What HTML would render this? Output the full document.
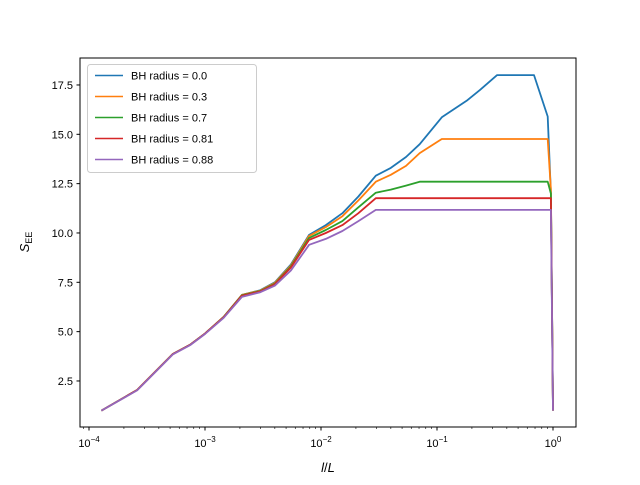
<!DOCTYPE html>
<html><head><meta charset="utf-8"><style>
body{margin:0;background:#fff}
svg{font-family:"Liberation Sans","DejaVu Sans",sans-serif}
</style></head><body>
<svg id="chart" width="640" height="480" viewBox="0 0 640 480">
<rect width="640" height="480" fill="#fff"/>
<g id="plot"></g>
<rect x="80" y="58" width="496" height="369" fill="none" stroke="#000" stroke-width="1"/>
<g id="axes"></g>
<text x="328" y="472" font-size="13" text-anchor="middle"><tspan font-style="italic">l</tspan>/<tspan font-style="italic">L</tspan></text>
<text transform="translate(29,242) rotate(-90)" font-size="13" text-anchor="middle"><tspan font-style="italic">S</tspan><tspan font-size="9" dy="3">EE</tspan></text>
<g id="legend"></g>
</svg>
<script>
const xVals=[1.28e-4,2.6e-4,5.3e-4,7.5e-4,1.0e-3,1.45e-3,2.08e-3,3.0e-3,4.0e-3,5.5e-3,7.9e-3,1.1e-2,1.53e-2,2.1e-2,2.97e-2,4.0e-2,5.4e-2,7.1e-2,0.11,0.18,0.235,0.33,0.686,0.9,0.96,1.0];
const seriesNames=["BH radius = 0.0","BH radius = 0.3","BH radius = 0.7","BH radius = 0.81","BH radius = 0.88"];
const s0=[1,2.04,3.87,4.35,4.9,5.75,6.86,7.1,7.5,8.4,9.9,10.4,11.0,11.85,12.9,13.3,13.85,14.5,15.86,16.7,17.25,18.0,18.0,15.9,12.0,1.0];
const s1=[1,2.04,3.87,4.35,4.9,5.75,6.86,7.08,7.47,8.35,9.85,10.3,10.85,11.65,12.6,12.95,13.4,14.05,14.76,14.76,14.76,14.76,14.76,14.76,12.2,1.0];
const s2=[1,2.04,3.87,4.35,4.9,5.74,6.84,7.06,7.43,8.3,9.75,10.15,10.6,11.3,12.04,12.2,12.4,12.6,12.6,12.6,12.6,12.6,12.6,12.6,12.0,1.0];
const s3=[1,2.04,3.87,4.35,4.9,5.73,6.82,7.04,7.4,8.25,9.65,10.0,10.4,11.0,11.76,11.76,11.76,11.76,11.76,11.76,11.76,11.76,11.76,11.76,11.76,1.0];
const s4=[1,2.02,3.85,4.33,4.88,5.7,6.76,7.0,7.33,8.1,9.4,9.7,10.1,10.6,11.17,11.17,11.17,11.17,11.17,11.17,11.17,11.17,11.17,11.17,11.17,1.0];
const yTicks=[2.5,5.0,7.5,10.0,12.5,15.0,17.5];
const xTickExp=[-4,-3,-2,-1,0];
const colors=["#1f77b4","#ff7f0e","#2ca02c","#d62728","#9467bd"];
const allSeries=[s0,s1,s2,s3,s4];
const NS="http://www.w3.org/2000/svg";
function X(v){return 553+116*Math.log10(v);}
function Y(v){return 430.3-19.733*v;}
function mk(t,a,p){const e=document.createElementNS(NS,t);for(const k in a)e.setAttribute(k,a[k]);p.appendChild(e);return e;}
const plot=document.getElementById('plot'),axes=document.getElementById('axes'),leg=document.getElementById('legend');
allSeries.forEach((s,i)=>{
 const d=s.map((v,j)=>(j?'L':'M')+X(xVals[j]).toFixed(1)+','+Y(v).toFixed(1)).join('');
 const p=mk('path',{d:d,fill:'none',stroke:colors[i],'stroke-width':1.8,'stroke-linejoin':'round'},plot);
 
 
});
yTicks.forEach(v=>{
 const y=Y(v);
 mk('line',{x1:76.5,x2:80,y1:y,y2:y,stroke:'#000'},axes);
 const t=mk('text',{x:73,y:y+4,'font-size':11,'text-anchor':'end'},axes);
 t.textContent=v.toFixed(1);
 
 
});
xTickExp.forEach(e=>{
 const x=X(Math.pow(10,e));
 mk('line',{x1:x,x2:x,y1:427,y2:430.5,stroke:'#000'},axes);
 const t=mk('text',{x:x,y:447,'font-size':11,'text-anchor':'middle'},axes);
 t.innerHTML='10<tspan font-size="8" dy="-5">'+(e<0?'\u2212'+(-e):e)+'</tspan>';
 
 
 for(let m=2;m<10;m++){const xm=X(m*Math.pow(10,e));if(xm<576)mk('line',{x1:xm,x2:xm,y1:427,y2:429,stroke:'#000','stroke-width':0.6},axes);}
 if(e===-4){for(let m=7;m<10;m++){const xm=X(m*1e-5);if(xm>80)mk('line',{x1:xm,x2:xm,y1:427,y2:429,stroke:'#000','stroke-width':0.6},axes);}}
});
const lb=mk('rect',{x:87.5,y:64.5,width:169,height:108,rx:3,fill:'#fff','fill-opacity':0.8,stroke:'#ccc'},leg);


seriesNames.forEach((n,i)=>{
 const y=75.5+21*i;
 mk('line',{x1:95,x2:123,y1:y,y2:y,stroke:colors[i],'stroke-width':1.5},leg);
 const t=mk('text',{x:131,y:y+4,'font-size':11},leg);
 t.textContent=n;
 
 
});
</script>
</body></html>
